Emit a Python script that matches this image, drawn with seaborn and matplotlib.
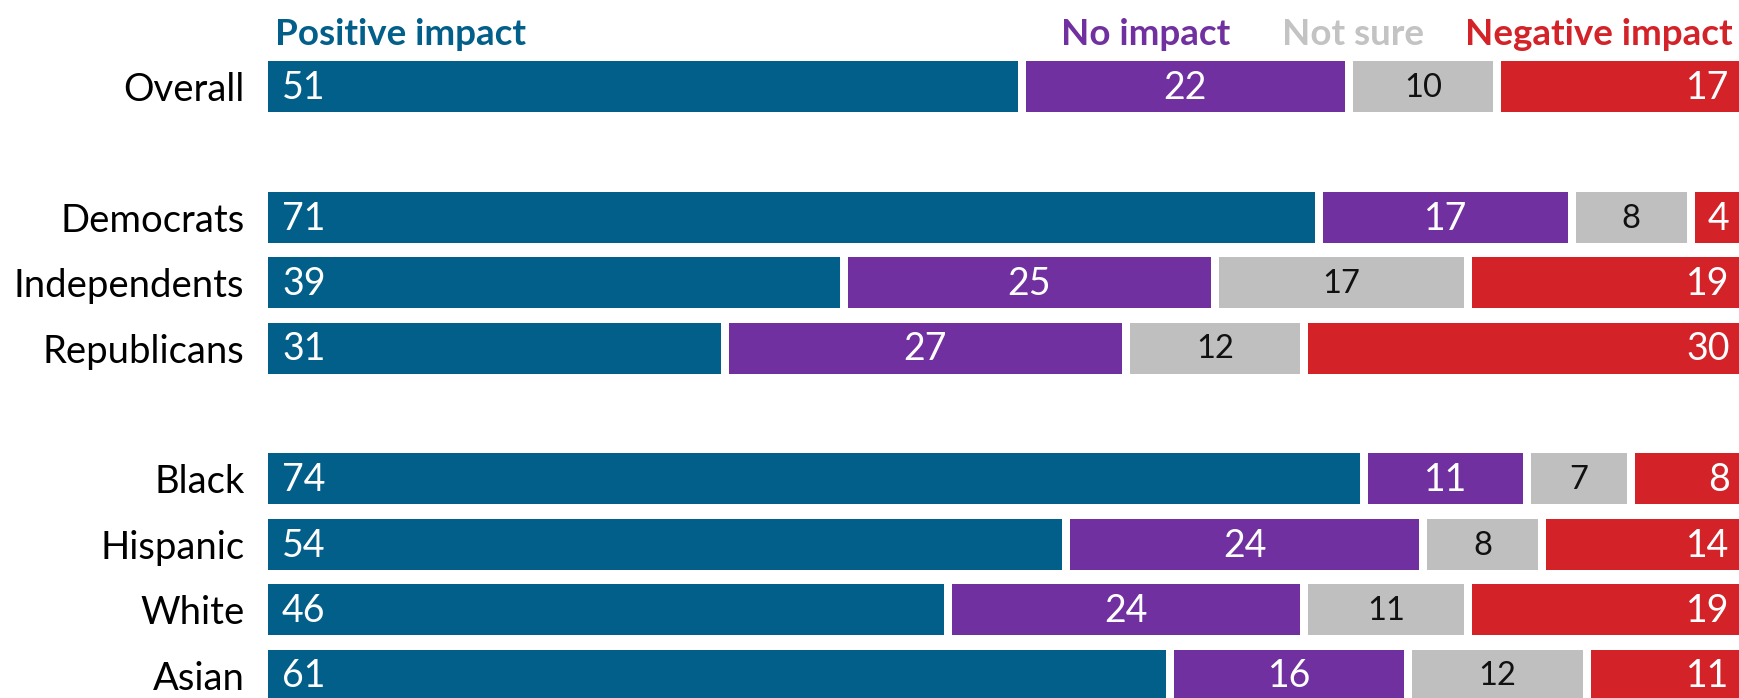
import numpy as np
import pandas as pd
import matplotlib
matplotlib.use("Agg")
import matplotlib.pyplot as plt
import seaborn as sns

# ---- data ----
groups = ["Overall", "Democrats", "Independents", "Republicans",
          "Black", "Hispanic", "White", "Asian"]
row_pos = [0, 2, 3, 4, 6, 7, 8, 9]
series = ["Positive impact", "No impact", "Not sure", "Negative impact"]
positive = [51, 71, 39, 31, 74, 54, 46, 61]
no_impact = [22, 17, 25, 27, 11, 24, 24, 16]
not_sure = [10, 8, 17, 12, 7, 8, 11, 12]
negative = [17, 4, 19, 30, 8, 14, 19, 11]

colors = {"Positive impact": "#015F8A", "No impact": "#7030A0",
          "Not sure": "#BFBFBF", "Negative impact": "#D32228"}
label_colors = {"Positive impact": "white", "No impact": "white",
                "Not sure": "#111111", "Negative impact": "white"}
label_sizes = {"Positive impact": 27, "No impact": 27,
               "Not sure": 23.5, "Negative impact": 27}
header_colors = {"Positive impact": "#015F8A", "No impact": "#7030A0",
                 "Not sure": "#C3C3C3", "Negative impact": "#D32228"}

sns.set_theme(style="white")
plt.rcParams["font.family"] = ["Lato", "DejaVu Sans"]

W, H = 1739, 698
fig = plt.figure(figsize=(W / 100, H / 100), dpi=100)
ax_left_px = 268
px_per_unit = 14.86
pitch = 65.4
ax = fig.add_axes([ax_left_px / W, 0, 1 - ax_left_px / W, 1])

gap = 8 / px_per_unit
vals = np.array([positive, no_impact, not_sure, negative], dtype=float)
lefts = np.vstack([np.zeros(len(groups)), np.cumsum(vals, axis=0)[:-1]])

rows = []
for si, s in enumerate(series):
    for gi, g in enumerate(groups):
        rows.append(dict(group=g, pos=row_pos[gi], series=s,
                         value=vals[si, gi], width=vals[si, gi] - gap,
                         left=lefts[si, gi]))
df = pd.DataFrame(rows)

for s in series:
    d = df[df.series == s].sort_values("pos")
    sns.barplot(data=d, x="width", y="pos", orient="y", native_scale=True,
                color=colors[s], saturation=1, errorbar=None, width=0.78,
                left=d["left"].values, linewidth=0, ax=ax)

# value labels
for _, r in df.iterrows():
    s = r.series
    if s == "Positive impact":
        x, ha = r.left + 0.94, "left"
    elif s == "Negative impact":
        x, ha = r.left + r.width - 1.1, "right"
    else:
        x, ha = r.left + r.width / 2, "center"
    ax.text(x, r.pos + 0.02, f"{int(r.value)}", ha=ha, va="center",
            color=label_colors[s], fontsize=label_sizes[s])

ax.set_xlim(0, (W - ax_left_px) / px_per_unit)
top = -86.5 / pitch
ax.set_ylim(top + H / pitch, top)
ax.set_yticks(row_pos)
ax.set_yticklabels(groups, fontsize=27.5, color="black")
ax.tick_params(axis="y", length=0, pad=17)
ax.set_xticks([])
ax.set_xlabel("")
ax.set_ylabel("")
for sp in ax.spines.values():
    sp.set_visible(False)

# header legend
hy = 1 - 45 / H
hs = 26.5
fig.text(275 / W, hy, "Positive impact", color=header_colors["Positive impact"],
         fontsize=hs, fontweight="bold", ha="left", va="baseline")
fig.text(1061 / W, hy, "No impact", color=header_colors["No impact"],
         fontsize=hs, fontweight="bold", ha="left", va="baseline")
fig.text(1282 / W, hy, "Not sure", color=header_colors["Not sure"],
         fontsize=hs, fontweight="bold", ha="left", va="baseline")
fig.text(1733 / W, hy, "Negative impact", color=header_colors["Negative impact"],
         fontsize=hs, fontweight="bold", ha="right", va="baseline")

fig.savefig("out.png", dpi=100)
